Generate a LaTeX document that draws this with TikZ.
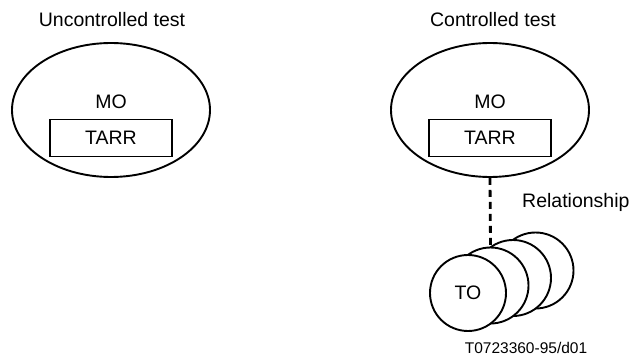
\documentclass[tikz,border=0pt]{standalone}
\usepackage{fontspec}
\setmainfont{Liberation Sans}
\usetikzlibrary{shapes.geometric}

\begin{document}
\begin{tikzpicture}[x=1pt, y=-1pt,
    mo/.style={draw, ellipse, line width=1.9pt, minimum width=198pt, minimum height=134pt, inner sep=0pt},
    tarr/.style={draw, rectangle, line width=1.9pt, minimum width=122pt, minimum height=37pt, inner sep=0pt, font=\fontsize{19.5}{22}\selectfont},
    tocircle/.style={draw, circle, fill=white, line width=1.9pt, minimum size=76pt, inner sep=0pt, font=\fontsize{19.5}{22}\selectfont},
    lbl/.style={font=\fontsize{19.5}{22}\selectfont, inner sep=0pt}]
    \useasboundingbox (0,0) rectangle (632,358);

    % Uncontrolled test
    \node[lbl] (titleU) at (112,20) {Uncontrolled test};
    \node[mo] (moU) at (111,110) {};
    \node[lbl] (moUtext) at (111,102) {MO};
    \node[tarr] (tarrU) at (111,138) {TARR};

    % Controlled test
    \node[lbl] (titleC) at (493,20) {Controlled test};
    \node[mo] (moC) at (490,110) {};
    \node[lbl] (moCtext) at (490,102) {MO};
    \node[tarr] (tarrC) at (490,138) {TARR};

    % Stack of test objects, back to front
    \def\dx{22.5}
    \def\dy{7.5}
    \foreach \k in {3,2,1} {
        \node[tocircle] (TO\k) at ({468+\dx*\k},{293-\dy*\k}) {};
    }
    \node[tocircle] (TO0) at (468,293) {TO};

    % Relationship
    \draw[line width=2.8pt, dash pattern=on 7pt off 5pt] (moC.south) -- (TO1.north);
    \node[lbl, anchor=west] (rel) at (522,202) {Relationship};

    % Figure number
    \node[font=\fontsize{15.5}{17}\selectfont, inner sep=0pt] (fig) at (526,348) {T0723360-95/d01};
\end{tikzpicture}
\end{document}
